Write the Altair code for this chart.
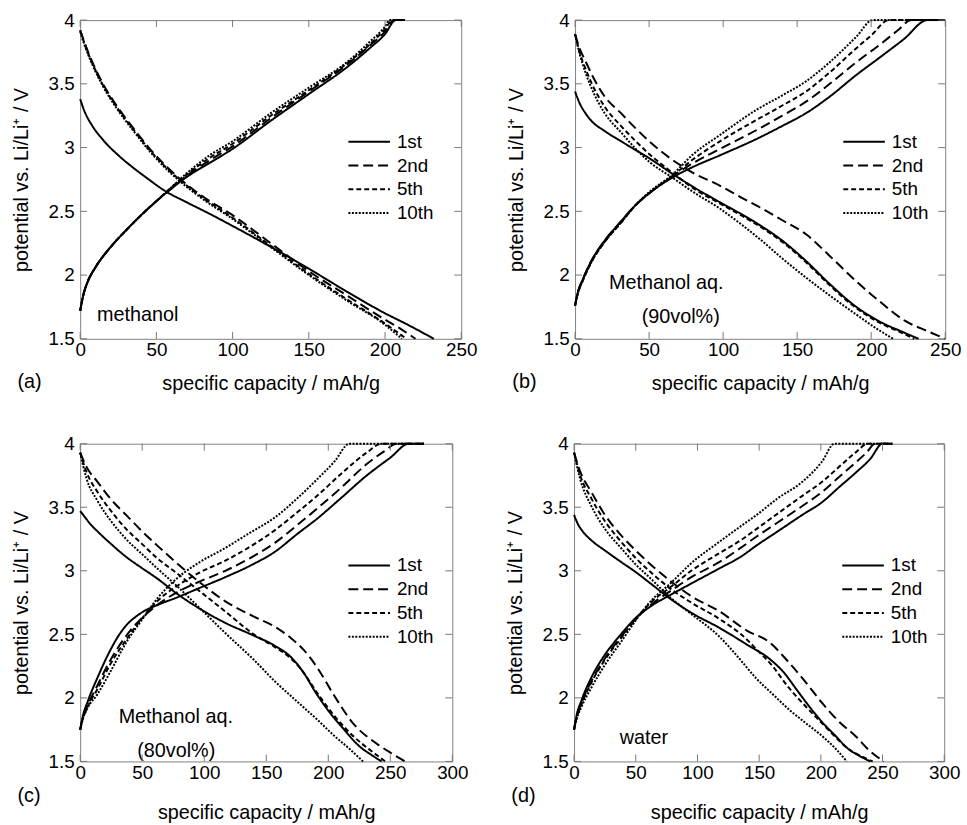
import altair as alt
import pandas as pd

FONT = "Liberation Sans"
CYCLES = ["1st", "2nd", "5th", "10th"]
DASHES = [[1, 0], [10, 5], [5, 3], [2, 1.5]]
YTICKS = [1.5, 2, 2.5, 3, 3.5, 4]
XTICKS_250 = [0, 50, 100, 150, 200, 250]
XTICKS_300 = [0, 50, 100, 150, 200, 250, 300]

# ---------------- panel (a): methanol ----------------
A_D1 = [(0, 3.38), (3, 3.28), (8, 3.17), (15, 3.06), (25, 2.94), (35, 2.84), (45, 2.75), (55, 2.665),
        (70, 2.57), (85, 2.48), (100, 2.385), (123, 2.235), (150, 2.05), (175, 1.87), (200, 1.70),
        (215, 1.61), (232, 1.50)]
A_D2 = [(0, 3.92), (3, 3.82), (8, 3.67), (15, 3.50), (25, 3.31), (35, 3.15), (45, 3.00), (55, 2.87),
        (65, 2.76), (80, 2.62), (100, 2.47), (125, 2.25), (150, 2.03), (175, 1.84), (200, 1.65),
        (210, 1.58), (220, 1.50)]
A_D5 = [(0, 3.92), (3, 3.81), (8, 3.66), (15, 3.49), (25, 3.30), (35, 3.14), (45, 2.99), (55, 2.86),
        (65, 2.75), (80, 2.61), (100, 2.45), (125, 2.23), (150, 2.01), (175, 1.81), (200, 1.62),
        (214, 1.50)]
A_D10 = [(0, 3.91), (3, 3.80), (8, 3.65), (15, 3.48), (25, 3.29), (35, 3.13), (45, 2.98), (55, 2.85),
         (65, 2.74), (80, 2.60), (100, 2.44), (125, 2.22), (150, 2.00), (175, 1.80), (200, 1.61),
         (211, 1.50)]
A_C1 = [(0, 1.72), (2, 1.84), (5, 1.95), (10, 2.06), (20, 2.22), (30, 2.35), (40, 2.47), (50, 2.58),
        (60, 2.68), (70, 2.77), (85, 2.88), (100, 2.99), (125, 3.21), (150, 3.42), (175, 3.63),
        (190, 3.78), (200, 3.89), (207, 4.0), (213, 4.0)]
A_C2 = [(0, 1.72), (2, 1.84), (5, 1.95), (10, 2.06), (20, 2.22), (30, 2.35), (40, 2.47), (50, 2.58),
        (60, 2.68), (70, 2.78), (85, 2.90), (100, 3.01), (125, 3.23), (150, 3.44), (175, 3.65),
        (190, 3.80), (200, 3.91), (206, 4.0), (213, 4.0)]
A_C5 = [(0, 1.72), (2, 1.84), (5, 1.95), (10, 2.06), (20, 2.22), (30, 2.35), (40, 2.47), (50, 2.58),
        (60, 2.69), (70, 2.79), (85, 2.92), (100, 3.03), (125, 3.25), (150, 3.45), (175, 3.66),
        (190, 3.81), (200, 3.93), (205, 4.0), (213, 4.0)]
A_C10 = [(0, 1.72), (2, 1.84), (5, 1.95), (10, 2.06), (20, 2.22), (30, 2.35), (40, 2.47), (50, 2.58),
         (60, 2.69), (70, 2.80), (85, 2.94), (100, 3.05), (125, 3.27), (150, 3.47), (175, 3.67),
         (190, 3.83), (200, 3.95), (203, 4.0), (213, 4.0)]

# ---------------- panel (b): methanol aq. 90 vol% ----------------
B_D1 = [(0, 3.44), (3, 3.35), (7, 3.27), (11, 3.21), (20, 3.13), (31, 3.05), (41, 2.98), (51, 2.91),
        (65, 2.80), (80, 2.69), (98, 2.57), (112, 2.48), (125, 2.39), (140, 2.27), (156, 2.11),
        (172, 1.93), (190, 1.75), (205, 1.64), (222, 1.55), (232, 1.50)]
B_D2 = [(0, 3.89), (3, 3.78), (7, 3.68), (11, 3.58), (20, 3.40), (31, 3.27), (41, 3.15), (51, 3.04),
        (65, 2.91), (80, 2.80), (98, 2.70), (112, 2.61), (125, 2.53), (140, 2.43), (156, 2.32),
        (172, 2.15), (190, 1.95), (205, 1.80), (223, 1.64), (238, 1.56), (250, 1.50)]
B_D5 = [(0, 3.89), (3, 3.75), (7, 3.62), (11, 3.51), (20, 3.32), (31, 3.17), (41, 3.05), (51, 2.94),
        (65, 2.81), (80, 2.68), (98, 2.56), (112, 2.47), (125, 2.38), (140, 2.26), (156, 2.10),
        (172, 1.92), (190, 1.74), (205, 1.63), (220, 1.55), (229, 1.50)]
B_D10 = [(0, 3.89), (3, 3.74), (7, 3.59), (11, 3.47), (20, 3.27), (31, 3.12), (41, 2.99), (51, 2.88),
         (65, 2.77), (80, 2.65), (98, 2.52), (112, 2.40), (125, 2.28), (140, 2.13), (156, 1.98),
         (172, 1.84), (190, 1.69), (205, 1.57), (215, 1.50)]
B_C1 = [(0, 1.76), (2, 1.87), (5, 1.96), (11, 2.11), (20, 2.27), (31, 2.42), (41, 2.55), (51, 2.65),
        (65, 2.76), (80, 2.85), (98, 2.94), (123, 3.07), (140, 3.17), (156, 3.27), (172, 3.40),
        (190, 3.57), (205, 3.70), (222, 3.85), (238, 4.0), (250, 4.0)]
B_C2 = [(0, 1.76), (2, 1.87), (5, 1.96), (11, 2.11), (20, 2.27), (31, 2.42), (41, 2.55), (51, 2.65),
        (65, 2.77), (80, 2.88), (98, 2.99), (123, 3.14), (140, 3.25), (156, 3.36), (172, 3.50),
        (190, 3.67), (205, 3.80), (218, 3.92), (227, 4.0), (250, 4.0)]
B_C5 = [(0, 1.76), (2, 1.86), (5, 1.95), (11, 2.10), (20, 2.26), (31, 2.41), (41, 2.55), (51, 2.65),
        (65, 2.77), (80, 2.91), (98, 3.05), (123, 3.22), (140, 3.33), (156, 3.44), (172, 3.59),
        (190, 3.78), (200, 3.88), (212, 4.0), (250, 4.0)]
B_C10 = [(0, 1.76), (2, 1.86), (5, 1.95), (11, 2.10), (20, 2.26), (31, 2.41), (41, 2.55), (51, 2.66),
         (65, 2.78), (80, 2.95), (98, 3.10), (123, 3.30), (140, 3.41), (156, 3.52), (172, 3.67),
         (190, 3.87), (201, 4.0), (250, 4.0)]

# ---------------- panel (c): methanol aq. 80 vol% ----------------
C_D1 = [(0, 3.47), (4, 3.42), (8, 3.37), (14, 3.31), (25, 3.21), (37, 3.11), (50, 3.02), (62, 2.94),
        (78, 2.82), (95, 2.71), (117, 2.59), (140, 2.49), (157, 2.41), (170, 2.32), (180, 2.20),
        (190, 2.04), (200, 1.90), (212, 1.76), (225, 1.62), (235, 1.55), (243, 1.50)]
C_D2 = [(0, 3.93), (5, 3.82), (14, 3.70), (25, 3.56), (37, 3.44), (50, 3.31), (62, 3.20), (78, 3.06),
        (95, 2.92), (117, 2.76), (140, 2.64), (157, 2.56), (170, 2.47), (180, 2.38), (191, 2.24),
        (204, 2.03), (220, 1.80), (239, 1.64), (250, 1.57), (262, 1.50)]
C_D5 = [(0, 3.93), (5, 3.78), (14, 3.62), (25, 3.47), (37, 3.33), (50, 3.21), (62, 3.10), (78, 2.98),
        (95, 2.85), (117, 2.68), (140, 2.50), (157, 2.40), (170, 2.31), (180, 2.20), (191, 2.04),
        (204, 1.87), (220, 1.70), (235, 1.58), (246, 1.50)]
C_D10 = [(0, 3.93), (5, 3.73), (14, 3.55), (25, 3.39), (37, 3.25), (50, 3.13), (62, 3.02), (78, 2.88),
         (95, 2.72), (117, 2.51), (140, 2.30), (157, 2.13), (175, 1.97), (191, 1.83), (205, 1.70),
         (217, 1.60), (228, 1.50)]
C_C1 = [(0, 1.75), (2, 1.85), (6, 1.97), (14, 2.16), (24, 2.37), (31, 2.49), (38, 2.58), (45, 2.64),
        (51, 2.68), (62, 2.73), (78, 2.79), (95, 2.86), (117, 2.95), (137, 3.04), (157, 3.15),
        (175, 3.29), (191, 3.41), (210, 3.57), (231, 3.75), (250, 3.89), (265, 4.0), (277, 4.0)]
C_C2 = [(0, 1.75), (2, 1.84), (6, 1.94), (14, 2.10), (24, 2.29), (38, 2.50), (51, 2.64), (62, 2.73),
        (78, 2.83), (95, 2.91), (117, 3.00), (137, 3.10), (157, 3.22), (175, 3.36), (191, 3.49),
        (210, 3.65), (231, 3.84), (245, 3.94), (255, 4.0), (277, 4.0)]
C_C5 = [(0, 1.75), (2, 1.83), (6, 1.93), (14, 2.07), (24, 2.26), (38, 2.47), (51, 2.64), (62, 2.76),
        (78, 2.88), (95, 2.98), (117, 3.08), (137, 3.19), (157, 3.32), (175, 3.46), (191, 3.59),
        (210, 3.76), (231, 3.93), (243, 4.0), (277, 4.0)]
C_C10 = [(0, 1.75), (2, 1.83), (6, 1.92), (14, 2.03), (24, 2.20), (38, 2.45), (51, 2.63), (62, 2.78),
         (78, 2.94), (95, 3.06), (117, 3.18), (137, 3.30), (157, 3.42), (175, 3.57), (191, 3.72),
         (205, 3.86), (217, 4.0), (277, 4.0)]

# ---------------- panel (d): water ----------------
D_D1 = [(0, 3.44), (3, 3.37), (7, 3.31), (14, 3.24), (25, 3.16), (38, 3.07), (50, 2.99), (62, 2.90),
        (78, 2.78), (95, 2.67), (118, 2.55), (140, 2.42), (158, 2.31), (170, 2.20), (180, 2.07),
        (190, 1.94), (201, 1.81), (212, 1.70), (222, 1.60), (232, 1.54), (240, 1.50)]
D_D2 = [(0, 3.93), (5, 3.78), (14, 3.62), (25, 3.44), (38, 3.28), (50, 3.16), (62, 3.05), (78, 2.92),
        (95, 2.80), (118, 2.68), (140, 2.53), (158, 2.44), (174, 2.28), (188, 2.12), (201, 1.96),
        (214, 1.82), (228, 1.70), (240, 1.58), (251, 1.50)]
D_D5 = [(0, 3.93), (5, 3.75), (14, 3.57), (25, 3.39), (38, 3.23), (50, 3.10), (62, 2.99), (78, 2.86),
        (95, 2.75), (118, 2.62), (140, 2.46), (148, 2.38), (160, 2.26), (174, 2.08), (188, 1.93),
        (201, 1.80), (212, 1.69), (222, 1.60), (233, 1.54), (242, 1.50)]
D_D10 = [(0, 3.93), (5, 3.72), (14, 3.51), (25, 3.33), (38, 3.18), (50, 3.05), (62, 2.94), (78, 2.79),
         (95, 2.66), (118, 2.48), (133, 2.32), (148, 2.15), (162, 2.02), (174, 1.91), (188, 1.80),
         (201, 1.70), (212, 1.60), (221, 1.50)]
D_C1 = [(0, 1.75), (2, 1.86), (6, 1.98), (14, 2.16), (25, 2.34), (38, 2.50), (50, 2.63), (62, 2.72),
        (78, 2.81), (95, 2.90), (118, 3.02), (135, 3.11), (148, 3.20), (165, 3.31), (185, 3.44),
        (201, 3.54), (215, 3.66), (228, 3.77), (240, 3.88), (250, 4.0), (258, 4.0)]
D_C2 = [(0, 1.75), (2, 1.85), (6, 1.96), (14, 2.13), (25, 2.31), (38, 2.48), (50, 2.62), (62, 2.73),
        (78, 2.84), (95, 2.95), (118, 3.07), (135, 3.18), (148, 3.27), (165, 3.38), (185, 3.51),
        (201, 3.62), (215, 3.74), (228, 3.85), (237, 3.93), (244, 4.0), (258, 4.0)]
D_C5 = [(0, 1.75), (2, 1.84), (6, 1.95), (14, 2.12), (25, 2.30), (38, 2.47), (50, 2.62), (62, 2.75),
        (78, 2.87), (95, 3.00), (118, 3.14), (135, 3.24), (148, 3.33), (165, 3.45), (185, 3.59),
        (201, 3.70), (215, 3.82), (228, 3.93), (238, 4.0), (258, 4.0)]
D_C10 = [(0, 1.75), (2, 1.83), (6, 1.93), (14, 2.08), (25, 2.26), (38, 2.44), (50, 2.61), (62, 2.76),
         (78, 2.90), (95, 3.06), (118, 3.23), (135, 3.35), (148, 3.44), (165, 3.57), (185, 3.70),
         (201, 3.86), (211, 4.0), (258, 4.0)]

A_NOTES = [("methanol", 11, 1.69)]
B_NOTES = [("Methanol aq.", 23, 1.94), ("(90vol%)", 45, 1.67)]
C_NOTES = [("Methanol aq.", 31, 1.85), ("(80vol%)", 46, 1.58)]
D_NOTES = [("water", 37, 1.68)]

SERIES = {
    "a": {"1st": (A_D1, A_C1), "2nd": (A_D2, A_C2), "5th": (A_D5, A_C5), "10th": (A_D10, A_C10)},
    "b": {"1st": (B_D1, B_C1), "2nd": (B_D2, B_C2), "5th": (B_D5, B_C5), "10th": (B_D10, B_C10)},
    "c": {"1st": (C_D1, C_C1), "2nd": (C_D2, C_C2), "5th": (C_D5, C_C5), "10th": (C_D10, C_C10)},
    "d": {"1st": (D_D1, D_C1), "2nd": (D_D2, D_C2), "5th": (D_D5, D_C5), "10th": (D_D10, D_C10)},
}
NOTES = {"a": A_NOTES, "b": B_NOTES, "c": C_NOTES, "d": D_NOTES}

XTITLE = "specific capacity / mAh/g"
YTITLE = "potential vs. Li/Li⁺ / V"


def series_frame(key):
    rows = []
    for cyc, (dis, chg) in SERIES[key].items():
        for branch, pts in (("discharge", dis), ("charge", chg)):
            for i, (x, y) in enumerate(pts):
                rows.append({"x": x, "y": y, "cycle": cyc, "curve": f"{cyc}-{branch}", "i": i})
    return pd.DataFrame(rows)


def panel(key, xmax, xticks, width, height, title_pad, lab_dy):
    df = series_frame(key)
    xs = alt.Scale(domain=[0, xmax], nice=False, zero=False)
    ys = alt.Scale(domain=[1.5, 4.0], nice=False, zero=False)
    xax = alt.Axis(values=xticks, format="d", title=XTITLE, labelPadding=2, titlePadding=title_pad,
                   labelOverlap=False, labelFlush=False)
    yax = alt.Axis(values=YTICKS, format="~g", title=YTITLE, labelPadding=6, titlePadding=17,
                   labelOverlap=False, labelFlush=False)
    lines = alt.Chart(df).mark_line(interpolate="monotone", strokeWidth=2, color="black").encode(
        x=alt.X("x:Q", scale=xs, axis=xax),
        y=alt.Y("y:Q", scale=ys, axis=yax),
        strokeDash=alt.StrokeDash(
            "cycle:N",
            scale=alt.Scale(domain=CYCLES, range=DASHES),
            legend=alt.Legend(title=None, orient="none", legendX=270, legendY=114,
                              symbolType="stroke", symbolSize=1764, symbolStrokeWidth=2,
                              symbolStrokeColor="black", labelFont=FONT, labelFontSize=19,
                              labelColor="black", labelOffset=6, rowPadding=5, padding=0,
                              clipHeight=18),
        ),
        detail="curve:N",
        order="i:Q",
    )
    notes = pd.DataFrame(NOTES[key], columns=["t", "x", "y"])
    text = alt.Chart(notes).mark_text(align="left", baseline="middle", font=FONT, fontSize=20,
                                      color="black").encode(
        x=alt.X("x:Q", title=XTITLE), y=alt.Y("y:Q", title=YTITLE), text="t:N")
    xt = pd.DataFrame({"x": xticks})
    yt = pd.DataFrame({"y": YTICKS})
    L = 7
    rs = dict(color="#777777", strokeWidth=1)
    bottom = alt.Chart(xt).mark_rule(**rs).encode(x=alt.X("x:Q", title=XTITLE),
                                                  y=alt.value(height), y2=alt.value(height - L))
    top = alt.Chart(xt).mark_rule(**rs).encode(x=alt.X("x:Q", title=XTITLE),
                                               y=alt.value(0), y2=alt.value(L))
    left = alt.Chart(yt).mark_rule(**rs).encode(y=alt.Y("y:Q", title=YTITLE),
                                                x=alt.value(0), x2=alt.value(L))
    right = alt.Chart(yt).mark_rule(**rs).encode(y=alt.Y("y:Q", title=YTITLE),
                                                 x=alt.value(width), x2=alt.value(width - L))
    return alt.layer(lines, text, bottom, top, left, right).properties(
        width=width, height=height,
        title=alt.TitleParams(f"({key})", orient="bottom", anchor="start", frame="bounds",
                              font=FONT, fontSize=20, fontWeight="normal", color="black",
                              dx=6, dy=lab_dy, offset=0),
    )


pa = panel("a", 250, XTICKS_250, 385, 322, 14, -21)
pb = panel("b", 250, XTICKS_250, 374, 322, 14, -21)
pc = panel("c", 300, XTICKS_300, 376, 321, 21, -37)
pd_ = panel("d", 300, XTICKS_300, 374, 321, 21, -37)

row1 = alt.hconcat(pa, pb, spacing=28).resolve_scale(strokeDash="independent").resolve_legend(strokeDash="independent")
row2 = alt.hconcat(pc, pd_, spacing=36).resolve_scale(strokeDash="independent").resolve_legend(strokeDash="independent")

chart = alt.vconcat(row1, row2, spacing=40).resolve_scale(strokeDash="independent").resolve_legend(
    strokeDash="independent"
).properties(
    padding={"left": 11, "top": 6, "right": 5, "bottom": 5},
    background="white",
).configure_view(stroke="#808080", strokeWidth=1).configure_axis(
    domain=False, ticks=False, grid=False, labelFont=FONT, labelFontSize=19, labelColor="black",
    titleFont=FONT, titleFontSize=20, titleFontWeight="normal", titleColor="black",
)

chart.save("out.html", embed_options={"renderer": "svg", "actions": False})
